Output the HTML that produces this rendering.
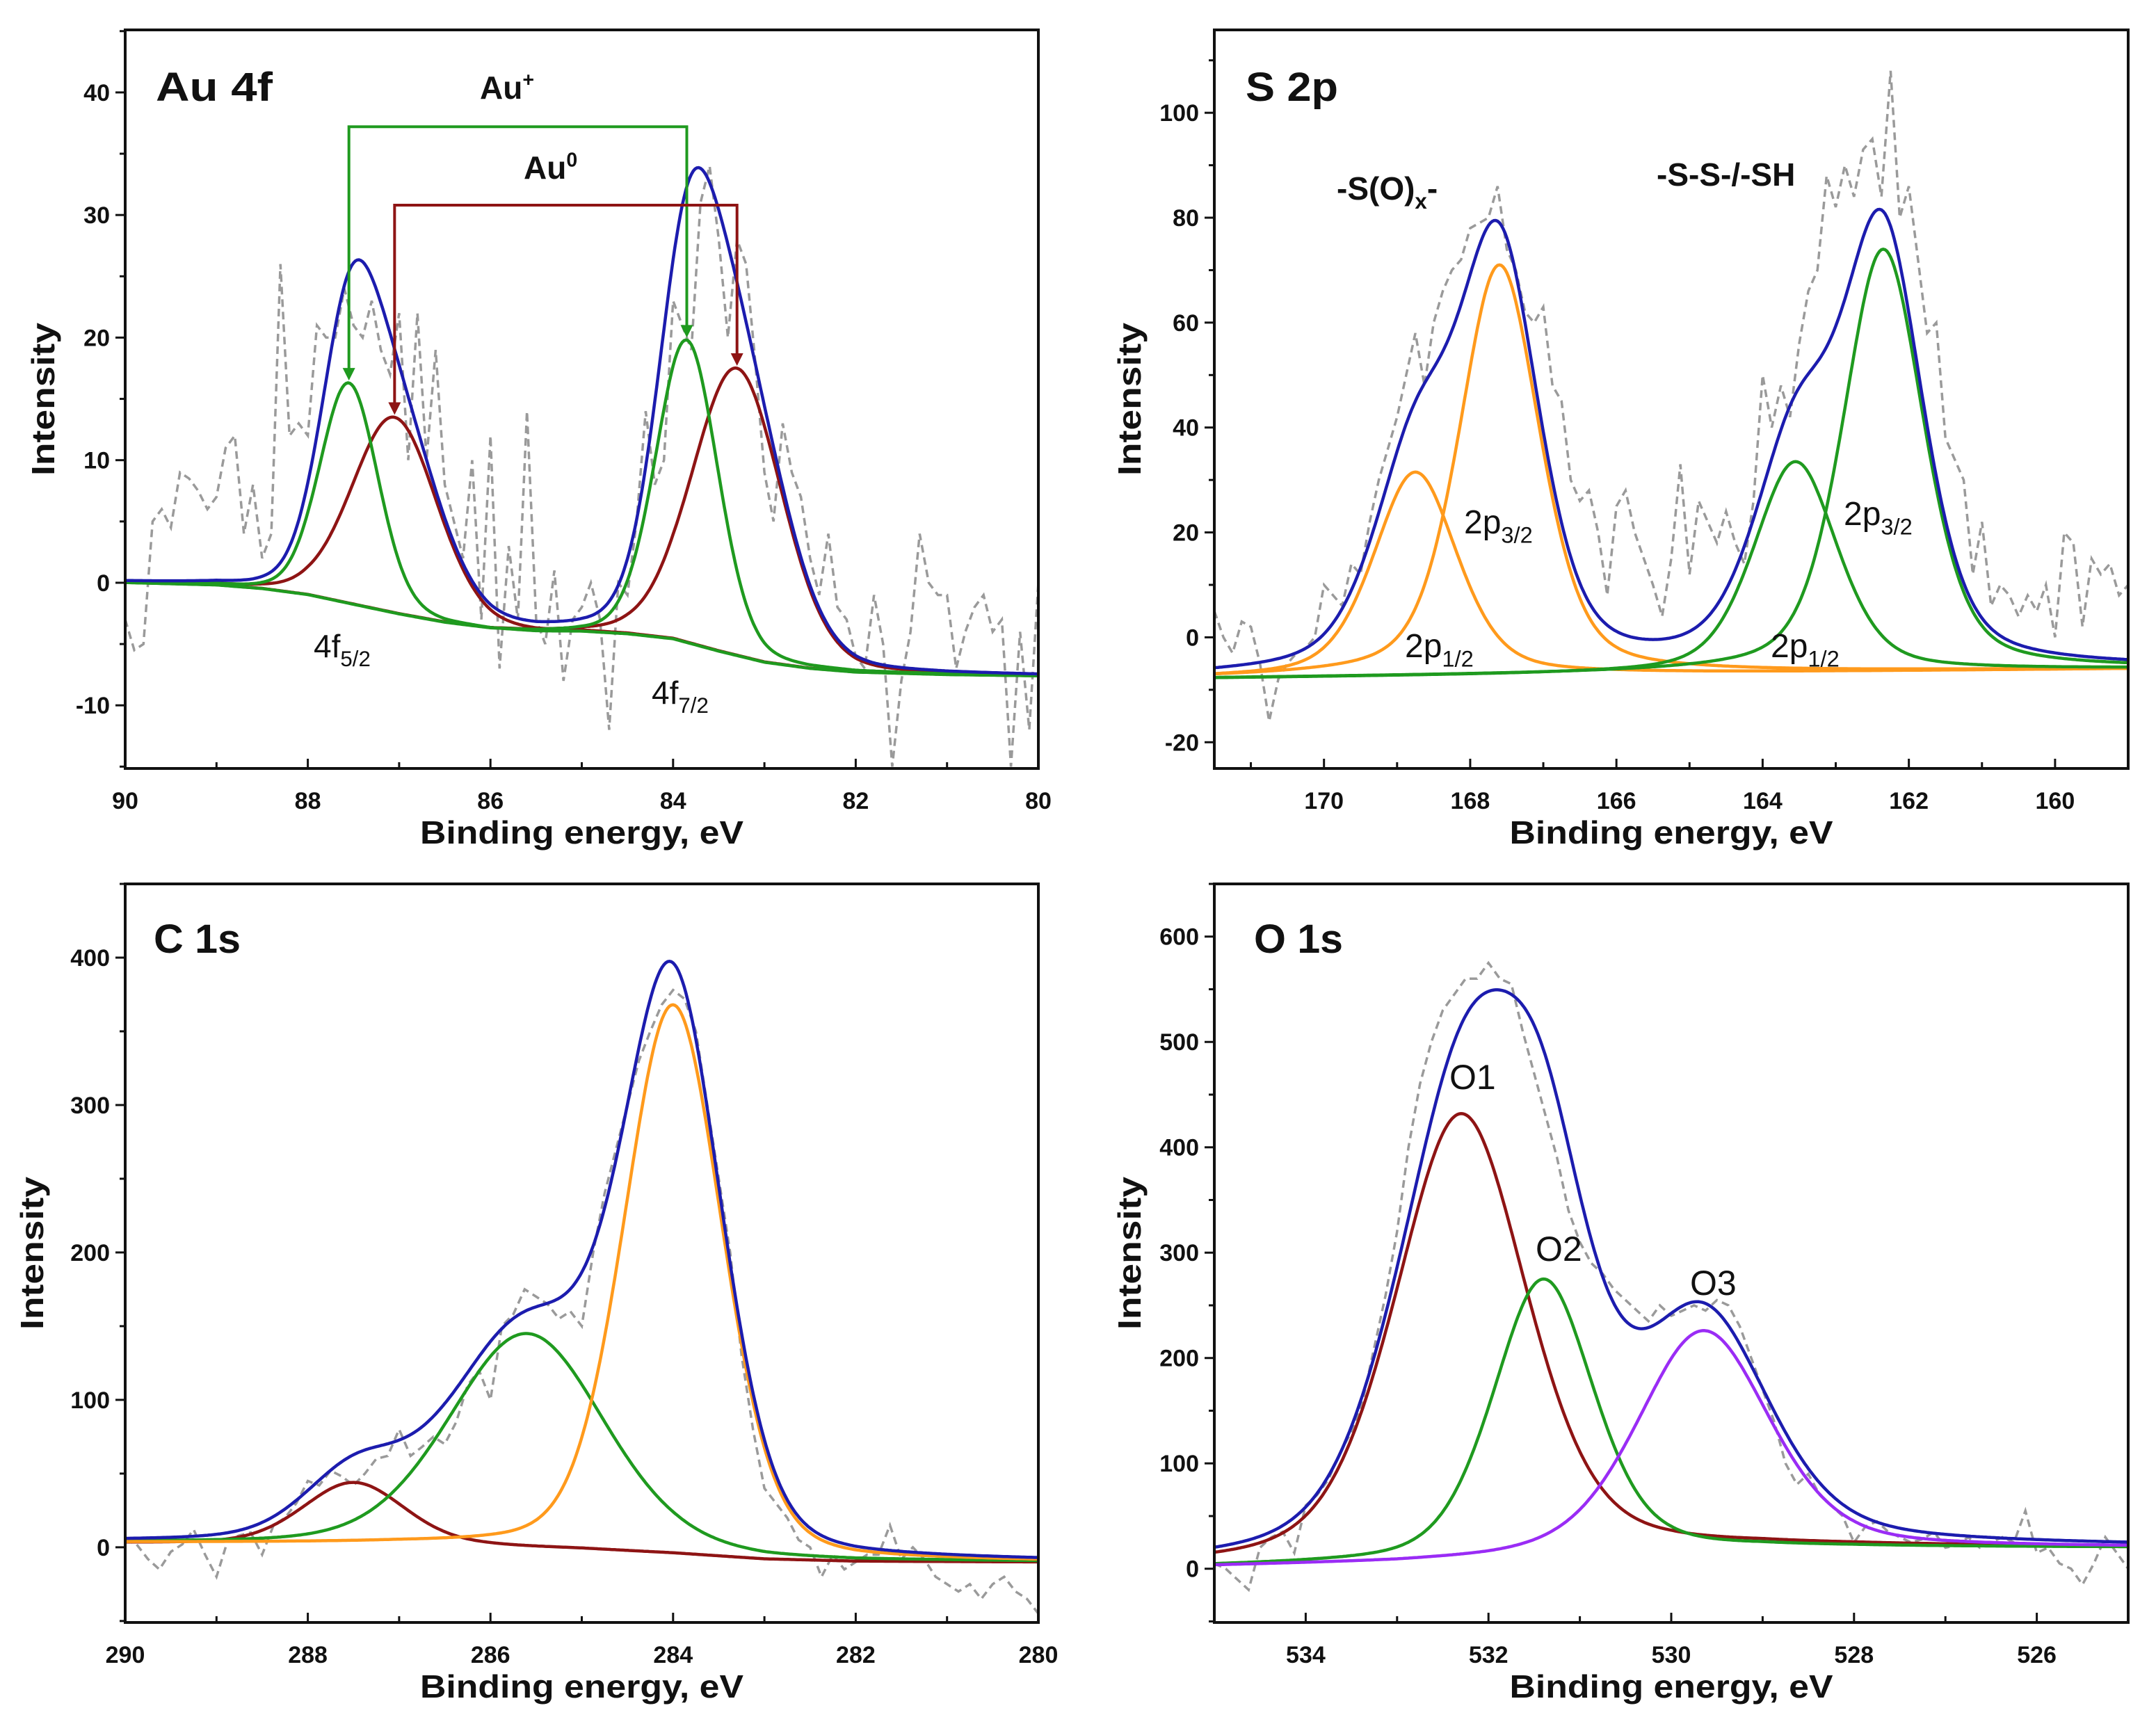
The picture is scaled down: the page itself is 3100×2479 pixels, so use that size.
<!DOCTYPE html>
<html><head><meta charset="utf-8"><title>XPS spectra</title>
<style>
html,body{margin:0;padding:0;background:#fff;}
svg{display:block;}
text{font-family:"Liberation Sans",sans-serif;fill:#111;}
</style></head>
<body>
<svg id="fig" xmlns="http://www.w3.org/2000/svg" width="3100" height="2479" viewBox="0 0 3100 2479">
<rect x="0" y="0" width="3100" height="2479" fill="#fff"/>
</svg>
<script>
// ===== Au 4f =====
const auDataStart = 90, auDataStep = -0.1;
const auDataY = [-3,-5.5,-5,5,6,4.5,9,8.5,7.5,6,7,11,12,4,8,2,4,26,12,13,12,21,20,20,24,21,20,23,19,17,22,10,22,10,19,8,5,2,10,-3,12,-7,3,-3,14,-3,-5,1,-8,-3,-2,0,-3,-12,0,-1,5,14,8,10,23,21,19,31,34,28,20,28,26,18,9,5,13,9,7,2,-1,4,-2,-3,-6,-7,-1,-5,-15,-8,-4,4,0,-1,-1,-7,-4,-2,-1,-4,-3,-15,-4,-12,0];
const auBgX = [90,89,88.5,88,87.5,87,86.5,86,85.5,85,84.5,84,83.5,83,82.5,82,81,80];
const auBgY = [0,-0.2,-0.5,-1,-1.8,-2.6,-3.3,-3.8,-4,-4,-4.2,-4.6,-5.6,-6.5,-7,-7.3,-7.5,-7.6];
const auPeakCenters = [87.05,83.3,87.55,83.85];
const auPeakHeights = [13.5,17.5,16.3,19.8];
const auPeakWidths = [1.1,1.15,0.75,0.8];
const auPeakColors = ['red','red','green','green'];
const auXTicks = [90,88,86,84,82,80];
const auYTicks = [-10,0,10,20,30,40];
const auBracketTop = [37.2,30.8];
const auBracketLeftX = [87.55,87.05];
const auBracketRightX = [83.85,83.3];
const auBracketLeftEnd = [16.5,13.7];
const auBracketRightEnd = [20.0,17.7];

// ===== S 2p =====
const sDataStart = 171.5, sDataStep = -0.125;
const sDataY = [5,0,-3,3,2,-5,-16,-8,-5,-3,-2,0,10,8,6,14,12,22,30,36,42,50,58,48,60,66,70,72,78,79,80,86,74,70,62,60,63,48,45,30,26,28,20,8,25,28,20,15,10,4,15,33,12,26,22,18,24,18,14,26,50,40,48,42,56,66,70,88,82,90,84,93,95,84,108,80,86,72,58,60,38,34,30,12,22,6,10,8,4,8,5,10,0,20,18,2,15,12,14,8,10];
const sBgX = [171.5,159];
const sBgY = [-7.8,-6];
const sPeakCenters = [168.75,167.6,163.55,162.35];
const sPeakHeights = [31.5,71,33.5,74];
const sPeakWidths = [1.35,1.3,1.35,1.3];
const sPeakColors = ['orange','orange','green','green'];
const sXTicks = [170,168,166,164,162,160];
const sYTicks = [-20,0,20,40,60,80,100];

// ===== C 1s =====
const cDataStart = 290, cDataStep = -0.125;
const cDataY = [5,2,-8,-15,-3,2,12,-5,-20,5,8,10,-5,15,20,30,45,42,52,48,42,50,60,62,80,62,68,75,70,85,110,120,100,150,158,175,170,165,155,160,150,200,240,270,300,330,350,368,378,372,350,300,250,200,130,80,40,30,20,5,0,-20,-5,-15,-10,-5,-5,15,-8,0,-8,-20,-25,-30,-25,-35,-25,-20,-30,-35,-45];
const cBgX = [290,287,286,285,284,283,282,280];
const cBgY = [3,2,1,-1,-4,-8,-9.5,-10];
const cPeakCenters = [287.5,285.6,284.0];
const cPeakHeights = [44,145,368];
const cPeakWidths = [1.3,2.0,1.27];
const cPeakColors = ['red','green','orange'];
const cXTicks = [290,288,286,284,282,280];
const cYTicks = [0,100,200,300,400];

// ===== O 1s =====
const oDataStart = 535, oDataStep = -0.125;
const oDataY = [5,0,-10,-20,20,30,35,15,60,70,85,110,130,160,210,260,320,400,460,500,530,545,560,560,575,560,555,510,470,430,390,340,310,290,280,265,255,245,235,250,240,245,250,245,255,250,230,200,170,140,100,80,90,70,60,50,25,40,45,35,30,25,28,35,20,22,30,20,25,30,25,55,15,20,5,0,-15,5,30,15,0];
const oBgX = [535,533,532,531,530,529,528,525];
const oBgY = [2,5,8,12,17,19.5,20,20];
const oPeakCenters = [532.3,531.4,529.65];
const oPeakHeights = [432,275,226];
const oPeakWidths = [1.7,1.3,1.7];
const oPeakColors = ['red','green','purple'];
const oXTicks = [534,532,530,528,526];
const oYTicks = [0,100,200,300,400,500,600];

const COLORS = {blue:'#1c1cae', red:'#8e1414', green:'#1f9a1f', orange:'#ff9a1c', purple:'#9a2cf5', gray:'#9a9a9a'};
const NS = 'http://www.w3.org/2000/svg';
const svg = document.getElementById('fig');

function mk(tag, attrs, parent){
  const e = document.createElementNS(NS, tag);
  for (const k in attrs) e.setAttribute(k, attrs[k]);
  (parent||svg).appendChild(e);
  return e;
}
function interp(xs, ys, x){
  for (let i=0;i<xs.length-1;i++){
    const a=xs[i], b=xs[i+1];
    if ((x<=a && x>=b) || (x>=a && x<=b)){
      const t=(x-a)/(b-a); return ys[i]+t*(ys[i+1]-ys[i]);
    }
  }
  return Math.abs(x-xs[0])<Math.abs(x-xs[xs.length-1]) ? ys[0] : ys[ys.length-1];
}
function pv(d, w, m){
  const r = d*d/(w*w);
  return (1-m)*Math.exp(-4*Math.LN2*r) + m/(1+4*r);
}

function drawPanel(P){
  const g = mk('g', {});
  
  
  const X = v => P.L + (P.x0 - v)/(P.x0 - P.x1)*(P.R-P.L);
  const Y = v => P.B - (v - P.y0)/(P.y1 - P.y0)*(P.B-P.T);
  const clipId = 'clip-'+P.name;
  const cp = mk('clipPath', {id:clipId}, g);
  mk('rect', {x:P.L, y:P.T, width:P.R-P.L, height:P.B-P.T}, cp);
  const plot = mk('g', {'clip-path':'url(#'+clipId+')'}, g);
  
  

  let d='';
  P.dataY.forEach((v,i)=>{ const xv=P.dStart+i*P.dStep; d+=(i?'L':'M')+X(xv).toFixed(1)+' '+Y(v).toFixed(1); });
  const raw = mk('path', {d:d, fill:'none', stroke:COLORS.gray, 'stroke-width':3.5, 'stroke-dasharray':'11 7'}, plot);
  
  

  const N = 500;
  const bg = x => interp(P.bgX, P.bgY, x);
  const amps = P.centers.map((c,i)=>P.heights[i]-bg(c));
  const comp = (i,x) => amps[i]*pv(x-P.centers[i], P.widths[i], P.mix);
  P.centers.forEach((c,i)=>{
    let p='';
    for (let k=0;k<=N;k++){ const x=P.x0+(P.x1-P.x0)*k/N; p+=(k?'L':'M')+X(x).toFixed(1)+' '+Y(bg(x)+comp(i,x)).toFixed(1); }
    const el = mk('path', {d:p, fill:'none', stroke:COLORS[P.colors[i]], 'stroke-width':4.5}, plot);
    
    
  });
  let e='';
  for (let k=0;k<=N;k++){
    const x=P.x0+(P.x1-P.x0)*k/N; let s=bg(x);
    P.centers.forEach((c,i)=>{ s+=comp(i,x); });
    e+=(k?'L':'M')+X(x).toFixed(1)+' '+Y(s).toFixed(1);
  }
  const env = mk('path', {d:e, fill:'none', stroke:COLORS.blue, 'stroke-width':4.5}, plot);
  
  

  const fr = mk('rect', {x:P.L, y:P.T, width:P.R-P.L, height:P.B-P.T, fill:'none', stroke:'#111', 'stroke-width':4}, g);
  
  

  const xstep = P.xTicks[1]-P.xTicks[0];
  P.xTicks.forEach(t=>{
    const px = X(t);
    mk('line', {x1:px, x2:px, y1:P.B, y2:P.B-14, stroke:'#111', 'stroke-width':3}, g);
    const mid = t + xstep/2;
    if ((mid<=P.x0 && mid>=P.x1)) { const pm=X(mid); mk('line', {x1:pm, x2:pm, y1:P.B, y2:P.B-9, stroke:'#111', 'stroke-width':3}, g); }
    const lbl = mk('text', {x:px, y:P.B+58, 'text-anchor':'middle', 'font-size':34, 'font-weight':'bold'}, g);
    lbl.textContent = t;
    
    
  });
  const minusEnd = P.xTicks[0]-xstep/2;
  if (minusEnd<=P.x0 && minusEnd>=P.x1){ const pm=X(minusEnd); mk('line', {x1:pm, x2:pm, y1:P.B, y2:P.B-9, stroke:'#111', 'stroke-width':3}, g); }
  const ystep = P.yTicks[1]-P.yTicks[0];
  const ymin = [P.yTicks[0]-ystep/2].concat(P.yTicks.map(t=>t+ystep/2));
  P.yTicks.forEach(t=>{
    const py = Y(t);
    mk('line', {x1:P.L, x2:P.L-14, y1:py, y2:py, stroke:'#111', 'stroke-width':3}, g);
    const lbl = mk('text', {x:P.L-22, y:py+12, 'text-anchor':'end', 'font-size':34, 'font-weight':'bold'}, g);
    lbl.textContent = t;
    
    
  });
  ymin.forEach(t=>{ if (t>=P.y0 && t<=P.y1){ const py=Y(t); mk('line', {x1:P.L, x2:P.L-8, y1:py, y2:py, stroke:'#111', 'stroke-width':3}, g);} });

  const xt = mk('text', {x:(P.L+P.R)/2, y:P.B+108, 'text-anchor':'middle', 'font-size':46, 'font-weight':'bold', textLength:465, lengthAdjust:'spacingAndGlyphs'}, g);
  xt.textContent = 'Binding energy, eV';
  
  
  const cy = (P.T+P.B)/2;
  const yt = mk('text', {x:P.ytX, y:cy, 'text-anchor':'middle', 'font-size':46, 'font-weight':'bold', transform:'rotate(-90 '+P.ytX+' '+cy+')', textLength:220, lengthAdjust:'spacingAndGlyphs'}, g);
  yt.textContent = 'Intensity';
  
  

  const tt = mk('text', {x:P.titleX, y:P.titleY, 'font-size':58, 'font-weight':'bold', textLength:P.titleW, lengthAdjust:'spacingAndGlyphs'}, g);
  tt.textContent = P.title;
  
  
  return {g, X, Y};
}

function addLabel(parent, x, y, main, sub, sup, size, bold, name){
  const t = mk('text', {x:x, y:y, 'font-size':size, 'font-weight':bold?'bold':'normal'}, parent);
  
  
  const a = mk('tspan', {}, t); a.textContent = main;
  if (sub){ const s = mk('tspan', {dy:size*0.28, 'font-size':size*0.68}, t); s.textContent = sub; }
  if (sup){ const s = mk('tspan', {dy:-size*0.38, 'font-size':size*0.62}, t); s.textContent = sup; }
  return t;
}

const A = drawPanel({name:'au-4f', L:180, R:1493, T:43, B:1105, x0:90, x1:80, y0:-15.15, y1:45.1,
  dataY:auDataY, dStart:auDataStart, dStep:auDataStep, bgX:auBgX, bgY:auBgY,
  centers:auPeakCenters, heights:auPeakHeights, widths:auPeakWidths, colors:auPeakColors, mix:0.15,
  xTicks:auXTicks, yTicks:auYTicks, ytX:78, title:'Au 4f', titleX:224, titleY:145, titleW:168});
const bCols = [COLORS.green, COLORS.red];
auBracketTop.forEach((top,i)=>{
  const xl=A.X(auBracketLeftX[i]), xr=A.X(auBracketRightX[i]), yt=A.Y(top);
  const yl=A.Y(auBracketLeftEnd[i]), yr=A.Y(auBracketRightEnd[i]);
  const br = mk('path', {d:'M'+xl+' '+(yl-14)+'L'+xl+' '+yt+'L'+xr+' '+yt+'L'+xr+' '+(yr-14), fill:'none', stroke:bCols[i], 'stroke-width':4}, A.g);
  
  
  [[xl,yl],[xr,yr]].forEach(p=>{
    const ah = mk('path', {d:'M'+(p[0]-9)+' '+(p[1]-18)+'L'+(p[0]+9)+' '+(p[1]-18)+'L'+p[0]+' '+p[1]+'Z', fill:bCols[i]}, A.g);
    
    
  });
});
addLabel(A.g, 690, 142, 'Au', null, '+', 46, true, 'au-plus-label');
addLabel(A.g, 753, 257, 'Au', null, '0', 46, true, 'au-zero-label');
addLabel(A.g, 451, 945, '4f', '5/2', null, 46, false, 'au-4f52-label');
addLabel(A.g, 937, 1012, '4f', '7/2', null, 46, false, 'au-4f72-label');

const B = drawPanel({name:'s-2p', L:1746, R:3060, T:43, B:1105, x0:171.5, x1:159, y0:-25, y1:115.8,
  dataY:sDataY, dStart:sDataStart, dStep:sDataStep, bgX:sBgX, bgY:sBgY,
  centers:sPeakCenters, heights:sPeakHeights, widths:sPeakWidths, colors:sPeakColors, mix:0.4,
  xTicks:sXTicks, yTicks:sYTicks, ytX:1640, title:'S 2p', titleX:1791, titleY:145, titleW:133});
addLabel(B.g, 1922, 287, '-S(O)', 'x', null, 46, true, 's-oxidized-label');
B.g.lastChild.appendChild(Object.assign(document.createElementNS(NS,'tspan'),{textContent:'-'})).setAttribute('dy','-13');
addLabel(B.g, 2382, 267, '-S-S-/-SH', null, null, 46, true, 's-thiol-label');
addLabel(B.g, 2105, 767, '2p', '3/2', null, 48, false, 's-ox-2p32-label');
addLabel(B.g, 2020, 945, '2p', '1/2', null, 48, false, 's-ox-2p12-label');
addLabel(B.g, 2651, 755, '2p', '3/2', null, 48, false, 's-thiol-2p32-label');
addLabel(B.g, 2546, 945, '2p', '1/2', null, 48, false, 's-thiol-2p12-label');

const C = drawPanel({name:'c-1s', L:180, R:1493, T:1271, B:2333, x0:290, x1:280, y0:-51, y1:450,
  dataY:cDataY, dStart:cDataStart, dStep:cDataStep, bgX:cBgX, bgY:cBgY,
  centers:cPeakCenters, heights:cPeakHeights, widths:cPeakWidths, colors:cPeakColors, mix:0.22,
  xTicks:cXTicks, yTicks:cYTicks, ytX:62, title:'C 1s', titleX:221, titleY:1370, titleW:125});

const D = drawPanel({name:'o-1s', L:1746, R:3060, T:1271, B:2333, x0:535, x1:525, y0:-51, y1:650,
  dataY:oDataY, dStart:oDataStart, dStep:oDataStep, bgX:oBgX, bgY:oBgY,
  centers:oPeakCenters, heights:oPeakHeights, widths:oPeakWidths, colors:oPeakColors, mix:0.35,
  xTicks:oXTicks, yTicks:oYTicks, ytX:1640, title:'O 1s', titleX:1803, titleY:1370, titleW:128});
addLabel(D.g, 2084, 1566, 'O1', null, null, 50, false, 'o1-label');
addLabel(D.g, 2208, 1813, 'O2', null, null, 50, false, 'o2-label');
addLabel(D.g, 2430, 1862, 'O3', null, null, 50, false, 'o3-label');
</script>
</body></html>
